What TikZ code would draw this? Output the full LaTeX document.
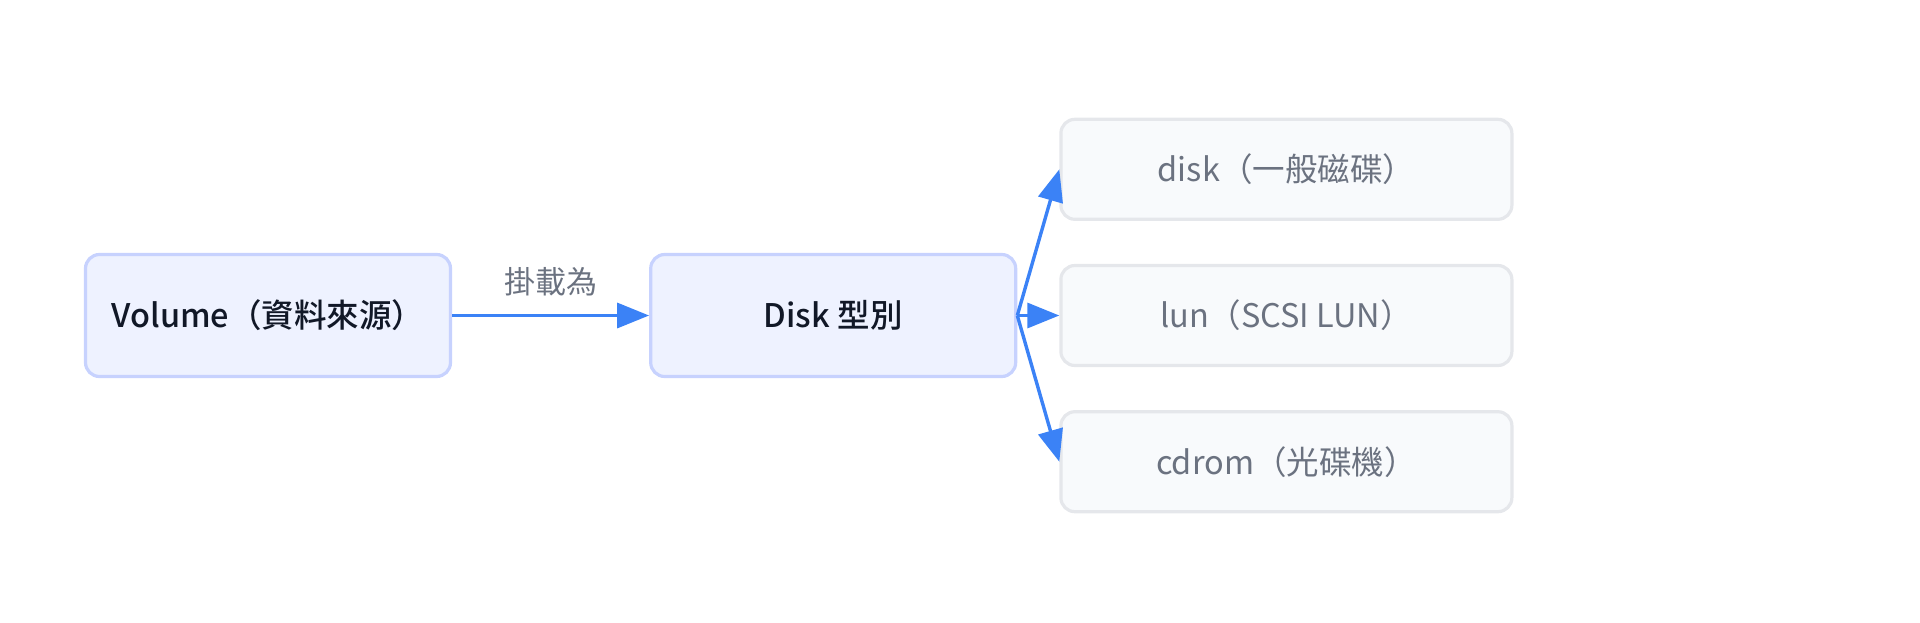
\documentclass[tikz,border=0pt]{standalone}
\usepackage{fontspec}
\setmainfont{Noto Sans CJK TC}[BoldFont={Noto Sans CJK TC Medium}]
\usetikzlibrary{arrows.meta,positioning}
\definecolor{Ink}{HTML}{111827}
\definecolor{InkMuted}{HTML}{6B7280}
\definecolor{SourceFill}{HTML}{EEF2FF}
\definecolor{SourceLine}{HTML}{C7D2FE}
\definecolor{OptionFill}{HTML}{F8FAFC}
\definecolor{OptionLine}{HTML}{E5E7EB}
\definecolor{FlowBlue}{HTML}{3B82F6}
\newcommand{\diagfont}{\fontsize{32.5}{38}\selectfont}
\tikzset{
  mainbox/.style={
    rounded corners=14pt,
    fill=SourceFill,
    draw=SourceLine,
    line width=3.2pt,
    minimum width=365pt,
    minimum height=122pt,
    inner sep=0pt,
    text=Ink,
    font=\diagfont\bfseries
  },
  optbox/.style={
    rounded corners=14pt,
    fill=OptionFill,
    draw=OptionLine,
    line width=3.2pt,
    minimum width=451pt,
    minimum height=100pt,
    inner sep=0pt,
    text=InkMuted,
    font=\diagfont
  },
  flow/.style={
    draw=FlowBlue,
    line width=3.4pt,
    -{Triangle[length=32pt,width=25pt]}
  },
  flowlabel/.style={
    inner sep=0pt,
    text=InkMuted,
    font=\fontsize{31}{36}\selectfont
  }
}

\begin{document}
\begin{tikzpicture}[x=1pt,y=1pt]
  \useasboundingbox (0,0) rectangle (1920,-622);
  \node[mainbox] (volume) at (268,-315.5) {Volume（資料來源）};
  \node[mainbox, right=197pt of volume] (disktype) {Disk 型別};
  \node[optbox, right=42pt of disktype] (lun) {lun（SCSI LUN）};
  \node[optbox, above=43pt of lun] (disk) {disk（一般磁碟）};
  \node[optbox, below=43pt of lun] (cdrom) {cdrom（光碟機）};
  \draw[flow] (volume) -- node[flowlabel, above=18pt] (mountlabel) {掛載為} (disktype);
  \draw[flow] (disktype.east) -- (disk.west);
  \draw[flow] (disktype.east) -- (lun.west);
  \draw[flow] (disktype.east) -- (cdrom.west);
\end{tikzpicture}
\end{document}
